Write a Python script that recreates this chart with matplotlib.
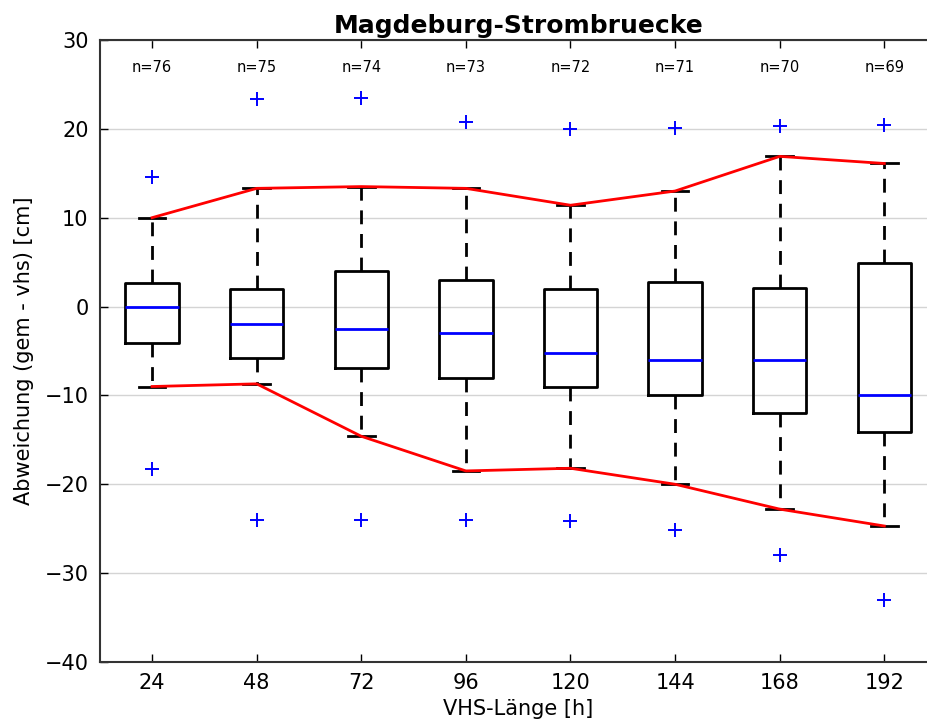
import matplotlib
matplotlib.use("Agg")
import matplotlib.pyplot as plt

lengths = [24, 48, 72, 96, 120, 144, 168, 192]
counts = [76, 75, 74, 73, 72, 71, 70, 69]
whisker_hi = [10.0, 13.3, 13.5, 13.3, 11.4, 13.0, 16.9, 16.1]
q3 = [2.6, 2.0, 4.0, 3.0, 2.0, 2.8, 2.1, 4.9]
median = [0.0, -2.0, -2.5, -3.0, -5.2, -6.0, -6.0, -10.0]
q1 = [-4.1, -5.8, -6.9, -8.0, -9.0, -10.0, -12.0, -14.1]
whisker_lo = [-9.0, -8.7, -14.6, -18.5, -18.2, -20.0, -22.8, -24.7]
outliers_hi = [14.6, 23.4, 23.5, 20.8, 20.0, 20.1, 20.3, 20.4]
outliers_lo = [-18.3, -24.0, -24.0, -24.0, -24.1, -25.2, -28.0, -33.0]

stats = []
for i in range(len(lengths)):
    stats.append(dict(med=median[i], q1=q1[i], q3=q3[i],
                      whislo=whisker_lo[i], whishi=whisker_hi[i],
                      fliers=[outliers_hi[i], outliers_lo[i]], label=str(lengths[i])))

fig = plt.figure(figsize=(9.27, 7.28), dpi=100)
ax = fig.add_axes([0.1076, 0.0907, 0.9028, 0.8544])
pos = list(range(1, len(lengths) + 1))
ax.yaxis.grid(True, color='#d4d4d4', linewidth=1.0, zorder=0)
ax.set_axisbelow(True)
ax.bxp(stats, positions=pos, widths=0.51,
       boxprops=dict(color='black', linewidth=2),
       medianprops=dict(color='blue', linewidth=2),
       whiskerprops=dict(color='black', linewidth=2, linestyle=(0, (5, 3.5))),
       capprops=dict(color='black', linewidth=2),
       flierprops=dict(marker='+', markeredgecolor='blue', markersize=10, markeredgewidth=1.4, linestyle='none'))
ax.plot(pos, whisker_hi, color='red', linewidth=2, zorder=5)
ax.plot(pos, whisker_lo, color='red', linewidth=2, zorder=5)
for p, n in zip(pos, counts):
    ax.text(p, 26.9, f"n={n}", ha='center', va='center', fontsize=10.5)
ax.set_xlim(0.5, 8.5)
ax.set_ylim(-40, 30)
ax.set_yticks(range(-40, 31, 10))
ax.set_xticks(pos)
ax.set_xticklabels([str(l) for l in lengths])
ax.tick_params(direction='in', top=True, right=True, labelsize=15, length=6, width=1, pad=8)
for s in ax.spines.values():
    s.set_linewidth(1.5)
    s.set_color('#333333')
ax.set_title("Magdeburg-Strombruecke", fontsize=18, fontweight='bold', pad=5)
ax.set_xlabel("VHS-Länge [h]", fontsize=15, labelpad=4)
ax.set_ylabel("Abweichung (gem - vhs) [cm]", fontsize=15, labelpad=8)
fig.savefig("out.png", dpi=100)
